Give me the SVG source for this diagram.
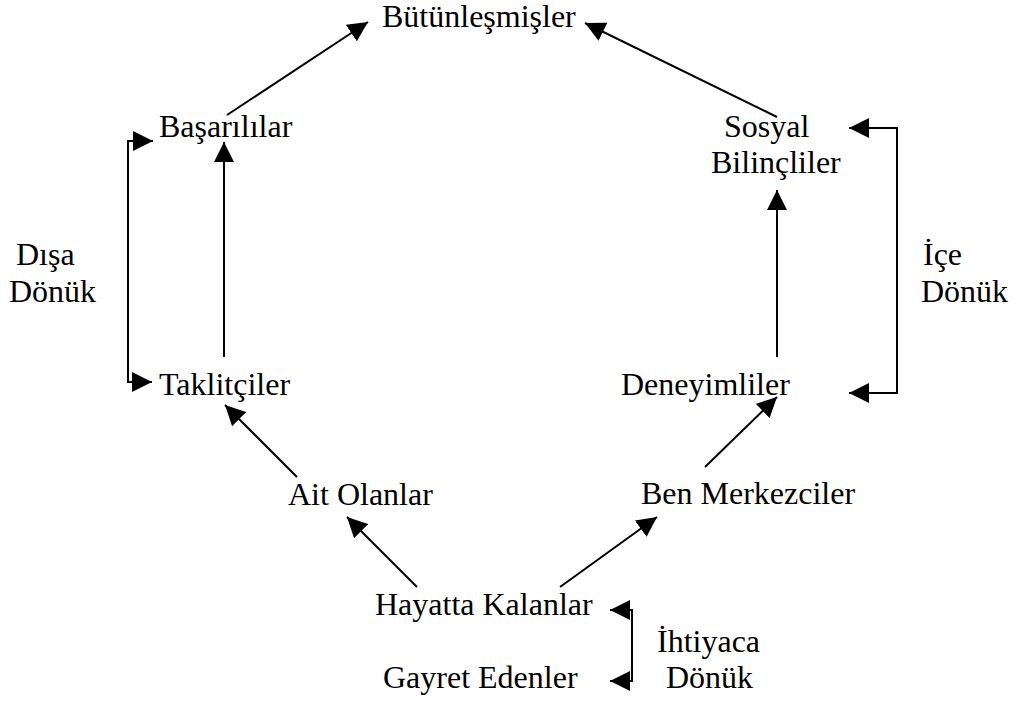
<svg xmlns="http://www.w3.org/2000/svg" width="1013" height="702" viewBox="0 0 1013 702">
  <style>
    .lbl { font-family: 'Liberation Serif', 'Times New Roman', Times, 'DejaVu Serif', serif; font-size: 32px; fill: #000; }
    .edge { stroke: #000; stroke-width: 2; fill: none; }
  </style>
  <defs>
    <marker id="arrow" markerUnits="userSpaceOnUse" markerWidth="20" markerHeight="20" refX="20" refY="10" orient="auto-start-reverse" viewBox="0 0 20 20">
      <path d="M0,0 L20,10 L0,20 Z" fill="#000"/>
    </marker>
  </defs>
  <rect width="1013" height="702" fill="#fff"/>

  <g id="connectors">
    <!-- upward flows -->
    <line class="edge" x1="227" y1="115" x2="368" y2="22" marker-end="url(#arrow)"/>
    <line class="edge" x1="777" y1="117" x2="585" y2="23" marker-end="url(#arrow)"/>
    <line class="edge" x1="224" y1="357" x2="224" y2="142" marker-end="url(#arrow)"/>
    <line class="edge" x1="777" y1="357" x2="777" y2="190" marker-end="url(#arrow)"/>
    <line class="edge" x1="297" y1="477" x2="225" y2="405" marker-end="url(#arrow)"/>
    <line class="edge" x1="705" y1="467" x2="777" y2="397" marker-end="url(#arrow)"/>
    <line class="edge" x1="417" y1="587" x2="347" y2="517" marker-end="url(#arrow)"/>
    <line class="edge" x1="560" y1="587" x2="657" y2="517" marker-end="url(#arrow)"/>
    <!-- group brackets -->
    <path class="edge" d="M153,141 H128 V382 H152" marker-start="url(#arrow)" marker-end="url(#arrow)"/>
    <path class="edge" d="M849,128 H897 V393 H849" marker-start="url(#arrow)" marker-end="url(#arrow)"/>
    <path class="edge" d="M610,610 H632 V681 H610" marker-start="url(#arrow)" marker-end="url(#arrow)"/>
  </g>

  <g class="lbl" font-family="Liberation Serif, serif">
    <g id="butunlesmisler"><text x="382" y="27">Bütünleşmişler</text></g>
    <g id="basarililar"><text x="159" y="137">Başarılılar</text></g>
    <g id="sosyal-bilincliler">
      <text x="724" y="137">Sosyal</text>
      <text x="711" y="173">Bilinçliler</text>
    </g>
    <g id="taklitciler"><text x="159" y="395">Taklitçiler</text></g>
    <g id="deneyimliler"><text x="621" y="395">Deneyimliler</text></g>
    <g id="ait-olanlar"><text x="288" y="505">Ait Olanlar</text></g>
    <g id="ben-merkezciler"><text x="641" y="504">Ben Merkezciler</text></g>
    <g id="hayatta-kalanlar"><text x="375" y="615">Hayatta Kalanlar</text></g>
    <g id="gayret-edenler"><text x="383" y="688">Gayret Edenler</text></g>

    <g id="disa-donuk">
      <text x="16" y="265">Dışa</text>
      <text x="9" y="302">Dönük</text>
    </g>
    <g id="ice-donuk">
      <text x="923" y="265">İçe</text>
      <text x="921" y="302">Dönük</text>
    </g>
    <g id="ihtiyaca-donuk">
      <text x="657" y="652">İhtiyaca</text>
      <text x="666" y="688">Dönük</text>
    </g>
  </g>
</svg>
